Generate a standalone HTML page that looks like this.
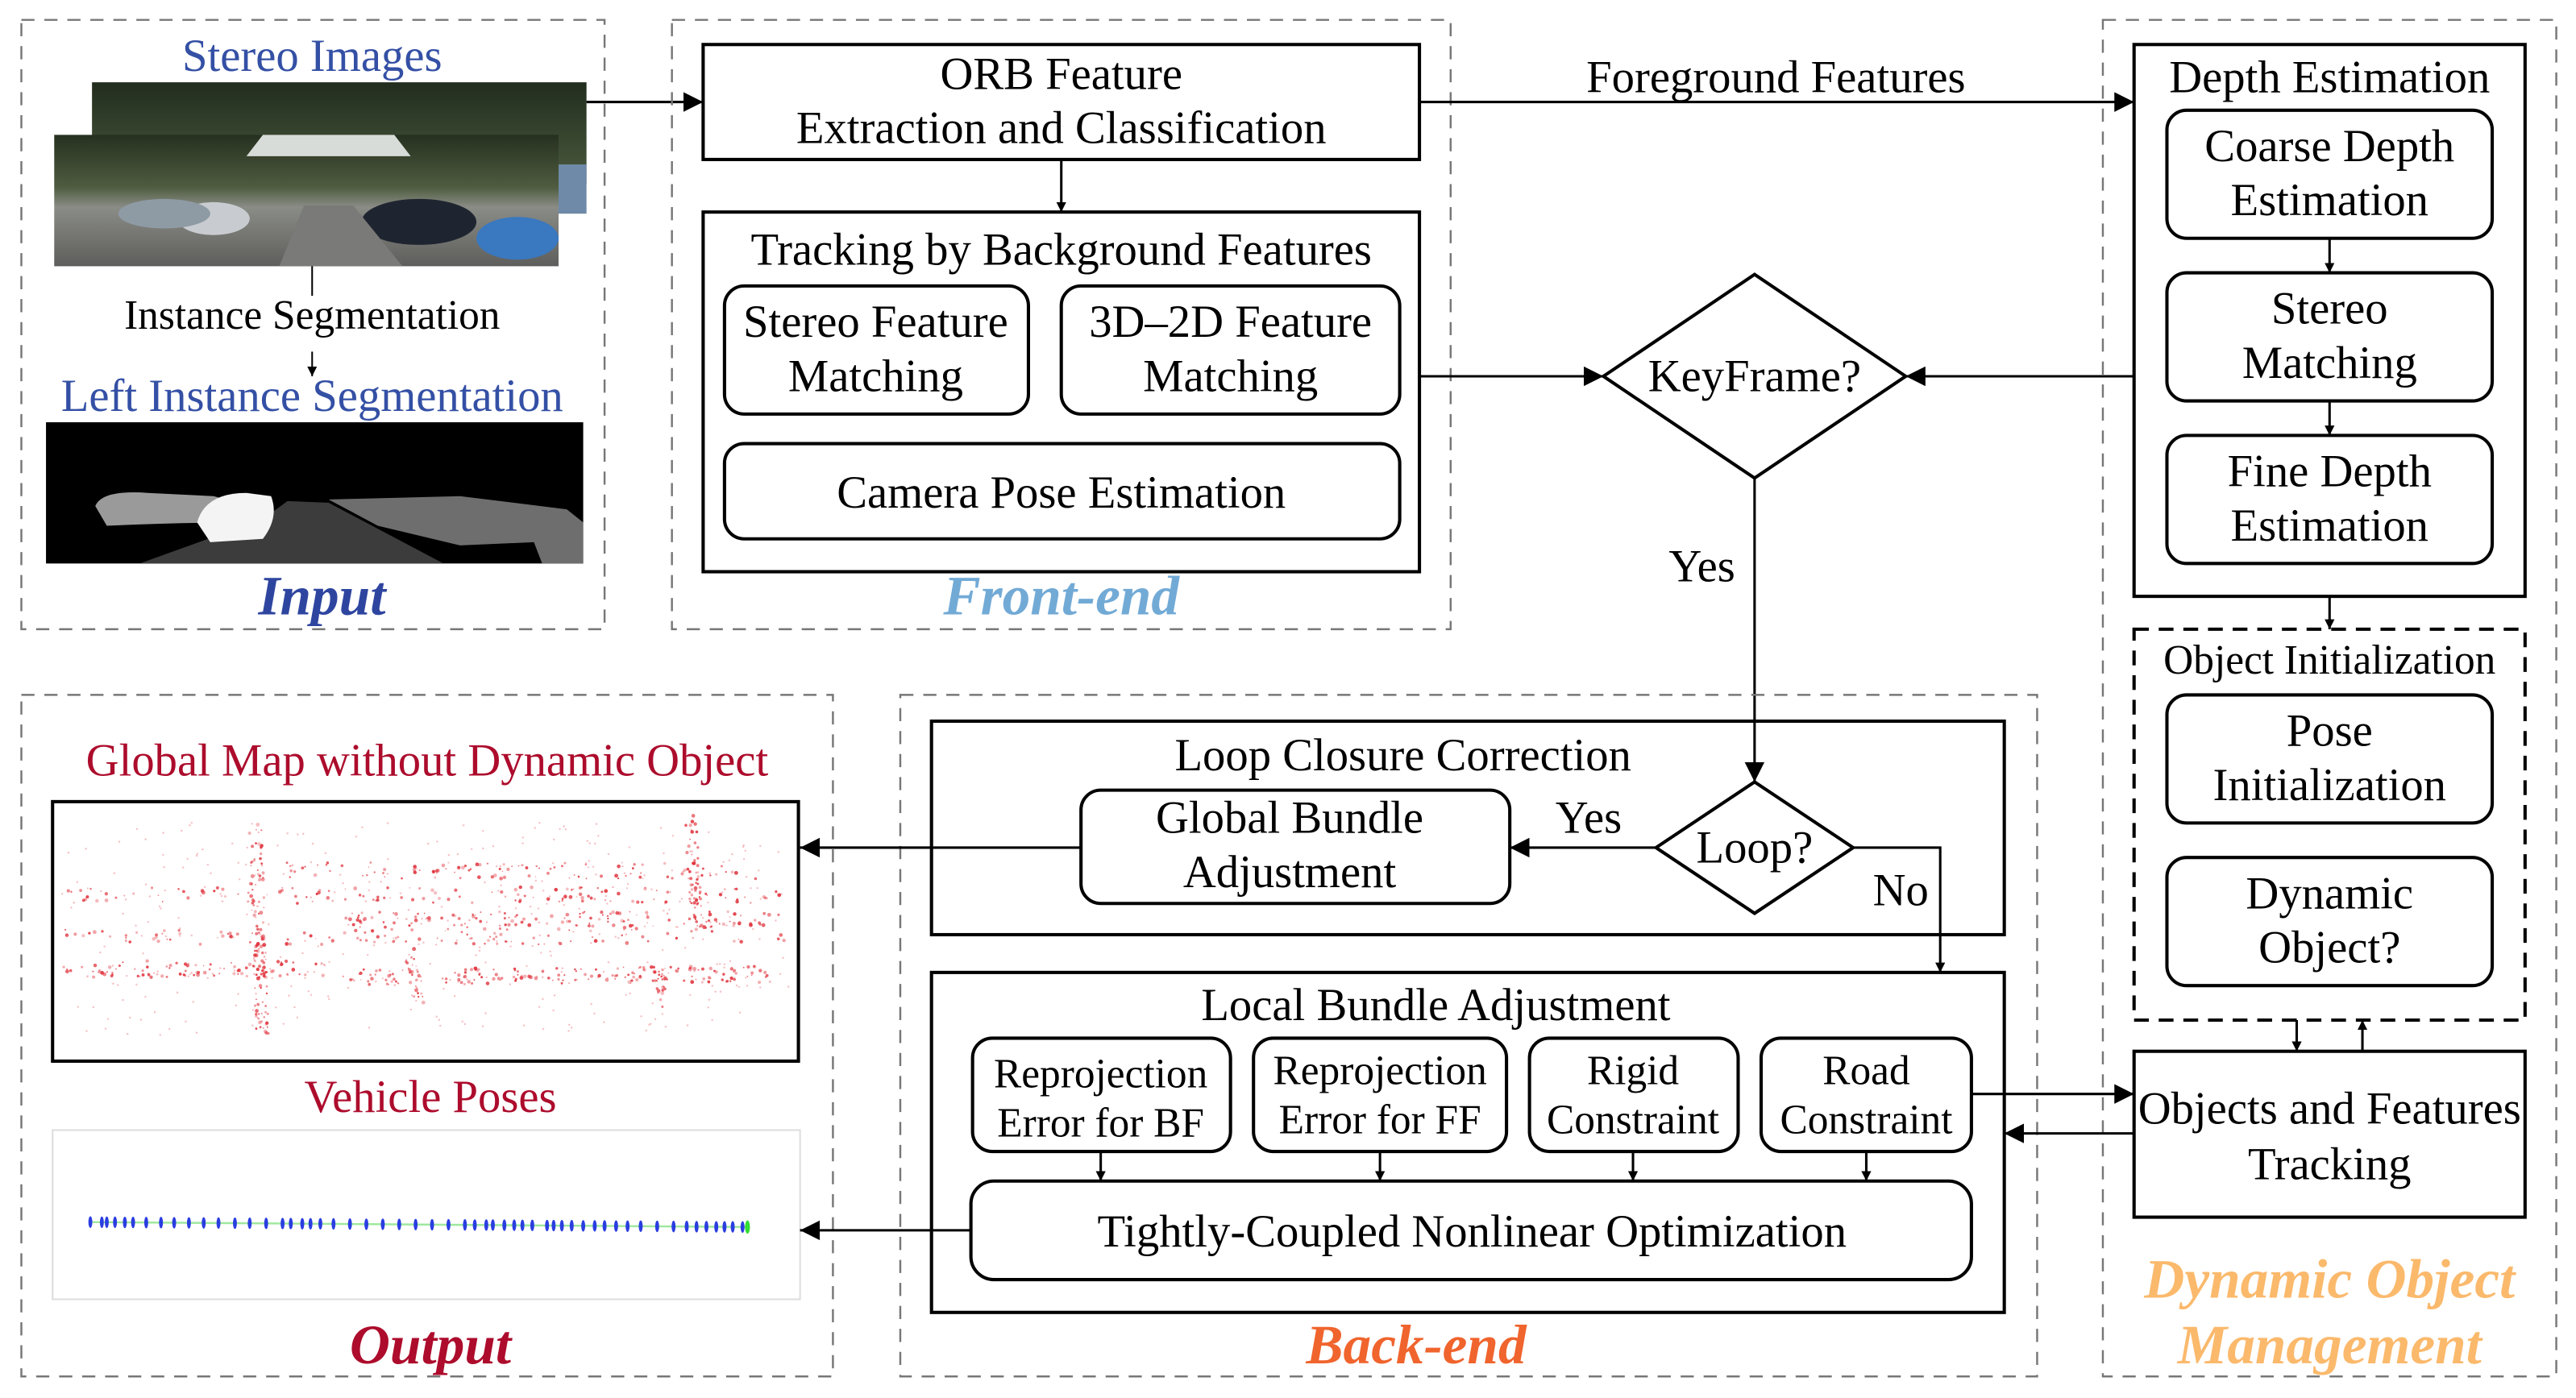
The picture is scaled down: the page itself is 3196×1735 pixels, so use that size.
<!DOCTYPE html>
<html><head><meta charset="utf-8"><style>
html,body{margin:0;padding:0;background:#fff}
svg{display:block}
text{font-family:"Liberation Serif",serif;fill:#000;text-anchor:middle}
.t{font-size:27.8px}
.s{font-size:25.2px}
.b{stroke:#000;stroke-width:2;fill:none}
.d{stroke:#777;stroke-width:1.2;fill:none;stroke-dasharray:8 6}
.bi{font-weight:bold;font-style:italic;font-size:34px}
</style></head><body>
<svg width="3196" height="1735" viewBox="0 0 1568 851" xmlns="http://www.w3.org/2000/svg">
<defs>
<marker id="a" viewBox="0 0 10 10" refX="10" refY="5" markerWidth="6" markerHeight="6" markerUnits="userSpaceOnUse" orient="auto"><path d="M0,0L10,5L0,10z" fill="#000"/></marker>
<marker id="A" viewBox="0 0 10 10" refX="10" refY="5" markerWidth="12" markerHeight="12" markerUnits="userSpaceOnUse" orient="auto"><path d="M0,0L10,5L0,10z" fill="#000"/></marker>
<linearGradient id="ph" x1="0" y1="0" x2="0" y2="1"><stop offset="0" stop-color="#26301f"/><stop offset="0.4" stop-color="#4f5c40"/><stop offset="0.55" stop-color="#8a8c86"/><stop offset="1" stop-color="#5e5e5c"/></linearGradient>
<linearGradient id="ph2" x1="0" y1="0" x2="0" y2="1"><stop offset="0" stop-color="#222d1e"/><stop offset="1" stop-color="#4a5a3e"/></linearGradient>
</defs>

<!-- Input -->
<rect class="d" x="13" y="12" width="355" height="371"/>
<text x="190" y="43" class="t" style="fill:#3450a5">Stereo Images</text>
<rect x="56" y="50" width="301" height="62" fill="url(#ph2)"/>
<rect x="300" y="100" width="57" height="30" fill="#6f8aa8"/>
<rect x="33" y="82" width="307" height="80" fill="url(#ph)"/>
<path d="M150,95 L160,82 L240,82 L250,95z" fill="#d8dcd8"/>
<ellipse cx="130" cy="133" rx="22" ry="10" fill="#c8ccd0"/>
<ellipse cx="100" cy="130" rx="28" ry="9" fill="#8e9aa4"/>
<ellipse cx="255" cy="135" rx="35" ry="14" fill="#1f2530"/>
<ellipse cx="315" cy="145" rx="25" ry="13" fill="#3a78c0"/>
<path d="M170,162 L185,125 L215,125 L245,162z" fill="#7a7a78"/>
<line x1="190" y1="162" x2="190" y2="180" stroke="#000" stroke-width="1"/>
<text x="190" y="200" class="s">Instance Segmentation</text>
<line x1="190" y1="214" x2="190" y2="229" stroke="#000" stroke-width="1" marker-end="url(#a)"/>
<text x="190" y="250" class="t" style="fill:#3450a5">Left Instance Segmentation</text>
<rect x="28" y="257" width="327" height="86" fill="#000"/>
<path d="M85,343 L160,316 L175,305 L200,306 L270,343z" fill="#3c3c3c"/>
<path d="M58,308 Q62,298 90,300 L130,302 L160,310 L150,318 Q110,318 65,320z" fill="#9a9a9a"/>
<path d="M120,318 Q125,300 150,300 L165,302 Q170,315 160,328 L128,330z" fill="#f4f4f4"/>
<path d="M200,304 L280,302 L345,310 L355,318 L355,343 L330,343 L325,330 L280,332 L230,320z" fill="#6e6e6e"/>
<text x="196" y="374" class="bi" style="fill:#2e45a0">Input</text>
<line x1="357" y1="62" x2="428" y2="62" stroke="#000" stroke-width="1.5" marker-end="url(#A)"/>

<!-- Front-end -->
<rect class="d" x="409" y="12" width="474" height="371"/>
<rect class="b" x="428" y="27" width="436" height="70"/>
<text x="646" y="54" class="t">ORB Feature</text>
<text x="646" y="87" class="t">Extraction and Classification</text>
<line x1="646" y1="97" x2="646" y2="129" stroke="#000" stroke-width="1.5" marker-end="url(#a)"/>
<rect class="b" x="428" y="129" width="436" height="219"/>
<text x="646" y="161" class="t">Tracking by Background Features</text>
<rect class="b" x="441" y="174" width="185" height="78" rx="12"/>
<text x="533" y="205" class="t">Stereo Feature</text>
<text x="533" y="238" class="t">Matching</text>
<rect class="b" x="646" y="174" width="206" height="78" rx="12"/>
<text x="749" y="205" class="t">3D–2D Feature</text>
<text x="749" y="238" class="t">Matching</text>
<rect class="b" x="441" y="270" width="411" height="58" rx="12"/>
<text x="646" y="309" class="t">Camera Pose Estimation</text>
<text x="646" y="374" class="bi" style="fill:#72aad6">Front-end</text>

<!-- Foreground features -->
<line x1="864" y1="62" x2="1299" y2="62" stroke="#000" stroke-width="1.5" marker-end="url(#A)"/>
<text x="1081" y="56" class="t">Foreground Features</text>
<line x1="864" y1="229" x2="976" y2="229" stroke="#000" stroke-width="1.5" marker-end="url(#A)"/>
<polygon class="b" points="1068,167 1160,229 1068,291 976,229"/>
<text x="1068" y="238" class="t">KeyFrame?</text>
<line x1="1299" y1="229" x2="1160" y2="229" stroke="#000" stroke-width="1.5" marker-end="url(#A)"/>
<line x1="1068" y1="291" x2="1068" y2="476" stroke="#000" stroke-width="1.5" marker-end="url(#A)"/>
<text x="1036" y="354" class="t">Yes</text>

<!-- Dynamic object management -->
<rect class="d" x="1280" y="12" width="276" height="826"/>
<rect class="b" x="1299" y="27" width="238" height="336"/>
<text x="1418" y="56" class="t">Depth Estimation</text>
<rect class="b" x="1319" y="67" width="198" height="78" rx="12"/>
<text x="1418" y="98" class="t">Coarse Depth</text>
<text x="1418" y="131" class="t">Estimation</text>
<line x1="1418" y1="145" x2="1418" y2="166" stroke="#000" stroke-width="1.5" marker-end="url(#a)"/>
<rect class="b" x="1319" y="166" width="198" height="78" rx="12"/>
<text x="1418" y="197" class="t">Stereo</text>
<text x="1418" y="230" class="t">Matching</text>
<line x1="1418" y1="244" x2="1418" y2="265" stroke="#000" stroke-width="1.5" marker-end="url(#a)"/>
<rect class="b" x="1319" y="265" width="198" height="78" rx="12"/>
<text x="1418" y="296" class="t">Fine Depth</text>
<text x="1418" y="329" class="t">Estimation</text>
<line x1="1418" y1="363" x2="1418" y2="383" stroke="#000" stroke-width="1.5" marker-end="url(#a)"/>
<rect x="1299" y="383" width="238" height="238" fill="none" stroke="#000" stroke-width="2" stroke-dasharray="9 6"/>
<text x="1418" y="410" class="s">Object Initialization</text>
<rect class="b" x="1319" y="423" width="198" height="78" rx="12"/>
<text x="1418" y="454" class="t">Pose</text>
<text x="1418" y="487" class="t">Initialization</text>
<rect class="b" x="1319" y="522" width="198" height="78" rx="12"/>
<text x="1418" y="553" class="t">Dynamic</text>
<text x="1418" y="586" class="t">Object?</text>
<line x1="1398" y1="621" x2="1398" y2="640" stroke="#000" stroke-width="1.5" marker-end="url(#a)"/>
<line x1="1438" y1="640" x2="1438" y2="621" stroke="#000" stroke-width="1.5" marker-end="url(#a)"/>
<rect class="b" x="1299" y="640" width="238" height="101"/>
<text x="1418" y="684" class="t">Objects and Features</text>
<text x="1418" y="718" class="t">Tracking</text>
<text x="1418" y="790" class="bi" style="fill:#fbb96c">Dynamic Object</text>
<text x="1418" y="830" class="bi" style="fill:#fbb96c">Management</text>

<!-- Back-end -->
<rect class="d" x="548" y="423" width="692" height="415"/>
<rect class="b" x="567" y="439" width="653" height="130"/>
<text x="854" y="469" class="t">Loop Closure Correction</text>
<rect class="b" x="658" y="481" width="261" height="69" rx="12"/>
<text x="785" y="507" class="t">Global Bundle</text>
<text x="785" y="540" class="t">Adjustment</text>
<polygon class="b" points="1068,476 1128,516 1068,556 1008,516"/>
<text x="1068" y="525" class="t">Loop?</text>
<line x1="1008" y1="516" x2="919" y2="516" stroke="#000" stroke-width="1.5" marker-end="url(#A)"/>
<text x="967" y="507" class="t">Yes</text>
<polyline points="1128,516 1181,516 1181,592" fill="none" stroke="#000" stroke-width="1.5" marker-end="url(#a)"/>
<text x="1157" y="551" class="t">No</text>
<rect class="b" x="567" y="592" width="653" height="207"/>
<text x="874" y="621" class="t">Local Bundle Adjustment</text>
<rect class="b" x="592" y="632" width="157" height="69" rx="12"/>
<text x="670" y="662" class="s">Reprojection</text>
<text x="670" y="692" class="s">Error for BF</text>
<rect class="b" x="763" y="632" width="154" height="69" rx="12"/>
<text x="840" y="660" class="s">Reprojection</text>
<text x="840" y="690" class="s">Error for FF</text>
<rect class="b" x="931" y="632" width="127" height="69" rx="12"/>
<text x="994" y="660" class="s">Rigid</text>
<text x="994" y="690" class="s">Constraint</text>
<rect class="b" x="1072" y="632" width="128" height="69" rx="12"/>
<text x="1136" y="660" class="s">Road</text>
<text x="1136" y="690" class="s">Constraint</text>
<line x1="670" y1="701" x2="670" y2="719" stroke="#000" stroke-width="1.5" marker-end="url(#a)"/>
<line x1="840" y1="701" x2="840" y2="719" stroke="#000" stroke-width="1.5" marker-end="url(#a)"/>
<line x1="994" y1="701" x2="994" y2="719" stroke="#000" stroke-width="1.5" marker-end="url(#a)"/>
<line x1="1136" y1="701" x2="1136" y2="719" stroke="#000" stroke-width="1.5" marker-end="url(#a)"/>
<rect class="b" x="591" y="719" width="609" height="60" rx="14"/>
<text x="896" y="759" class="t">Tightly-Coupled Nonlinear Optimization</text>
<line x1="1200" y1="666" x2="1299" y2="666" stroke="#000" stroke-width="1.5" marker-end="url(#A)"/>
<line x1="1299" y1="690" x2="1220" y2="690" stroke="#000" stroke-width="1.5" marker-end="url(#A)"/>
<text x="862" y="830" class="bi" style="fill:#f0642d">Back-end</text>

<!-- Output -->
<rect class="d" x="13" y="423" width="494" height="415"/>
<text x="260" y="472" class="t" style="fill:#ad0c2c">Global Map without Dynamic Object</text>
<rect class="b" x="32" y="488" width="454" height="158"/>
<g id="pts" fill="#e0303a"></g>
<line x1="658" y1="516" x2="487" y2="516" stroke="#000" stroke-width="1.5" marker-end="url(#A)"/>
<text x="262" y="677" class="t" style="fill:#ad0c2c">Vehicle Poses</text>
<rect x="32" y="688" width="455" height="103" fill="none" stroke="#ddd" stroke-width="1"/>
<line x1="55" y1="744" x2="456" y2="747" stroke="#9ee89e" stroke-width="1.2"/>
<g id="pose" fill="#2a3ee0"></g>
<line x1="591" y1="749" x2="487" y2="749" stroke="#000" stroke-width="1.5" marker-end="url(#A)"/>
<text x="262" y="830" class="bi" style="fill:#ad0c2c">Output</text>
</svg>
<script>
(function(){
var s=7,R=function(){s=(s*16807)%2147483647;return s/2147483647;};
var g=document.getElementById('pts'),h='';
var segs=[[40,545,480,545,150],[210,560,470,560,150],[40,590,200,590,100],[210,595,470,593,180],[170,530,460,530,110],[155,500,160,630,120],[420,500,425,560,50],[35,570,480,570,120],[250,580,255,610,25],[400,590,402,610,25]];
segs.forEach(function(q){for(var i=0;i<q[4];i++){var t=R();var x=q[0]+(q[2]-q[0])*t+(R()-.5)*8,y=q[1]+(q[3]-q[1])*t+(R()-.5)*10;h+='<circle cx="'+x.toFixed(1)+'" cy="'+y.toFixed(1)+'" r="'+(0.4+R()*0.8).toFixed(2)+'" opacity="'+(0.3+R()*0.6).toFixed(2)+'"/>';}});
for(var i=0;i<350;i++){h+='<circle cx="'+(40+R()*440).toFixed(1)+'" cy="'+(500+R()*130).toFixed(1)+'" r="0.6" opacity="0.3"/>';}
g.innerHTML=h;
var p=document.getElementById('pose'),hp='';
var xs=[55,62,65,70,76,81,89,98,106,115,124,133,143,152,162,172,177,184,189,195,203,213,223,233,243,253,263,273,283,289,296,300,307,313,318,324,333,337,342,348,355,362,368,375,382,390,400,410,418,424,430,436,441,446,452];
xs.forEach(function(x,i){var y=744+3*(x-55)/400;hp+='<ellipse cx="'+x+'" cy="'+y.toFixed(1)+'" rx="1.2" ry="3.5"/>';});
hp+='<ellipse cx="455" cy="747" rx="1.5" ry="4" fill="#33dd33"/>';
p.innerHTML=hp;
})();
</script>
</body></html>
